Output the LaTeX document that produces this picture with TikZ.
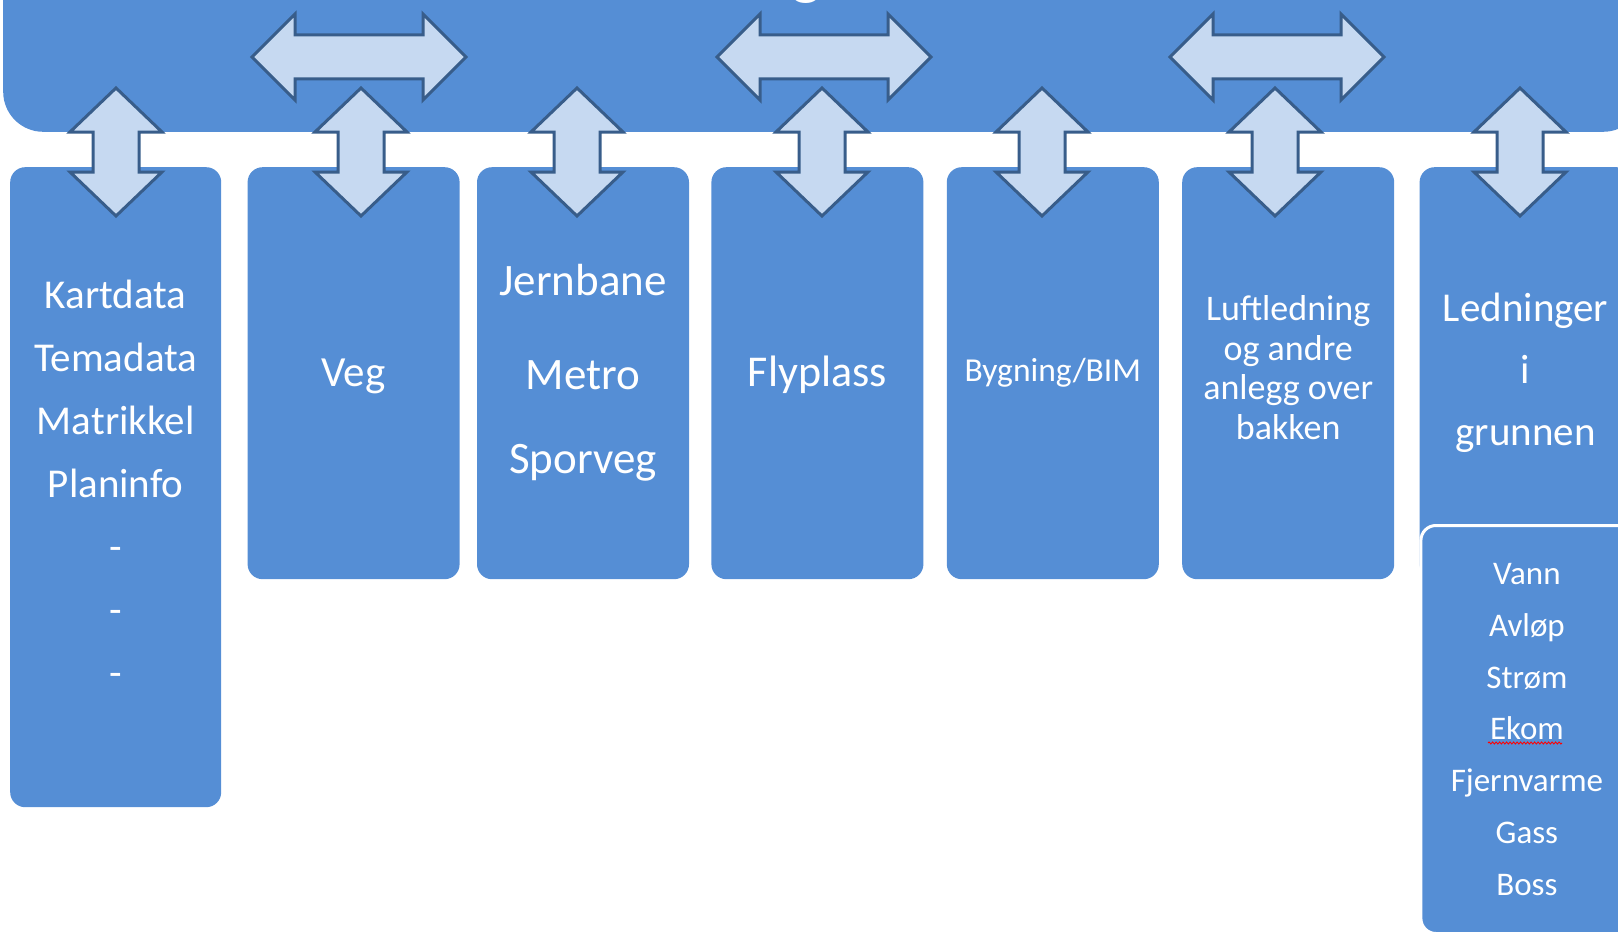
\documentclass[tikz,border=0pt]{standalone}
\usepackage{fontspec}
\setmainfont{Carlito}
\usetikzlibrary{positioning,decorations.pathmorphing}
\definecolor{boxblue}{HTML}{558ED5}
\definecolor{arrowfill}{HTML}{C6D9F1}
\definecolor{arrowline}{HTML}{385D8A}
\tikzset{
  box/.style={fill=boxblue, rounded corners=15pt, minimum width=212pt, minimum height=412pt,
    inner sep=0pt, text=white, align=center, font=\fontsize{43}{52}\selectfont},
  vdouble/.pic={\draw[fill=arrowfill, draw=arrowline, line width=3pt]
    (0,-64) -- (46,-20) -- (23,-20) -- (23,20) -- (46,20) -- (0,64) -- (-46,20) -- (-23,20) -- (-23,-20) -- (-46,-20) -- cycle;},
  hdouble/.pic={\draw[fill=arrowfill, draw=arrowline, line width=3pt]
    (-107,0) -- (-64,-43) -- (-64,-22) -- (64,-22) -- (64,-43) -- (107,0) -- (64,43) -- (64,22) -- (-64,22) -- (-64,43) -- cycle;}
}
\begin{document}
\begin{tikzpicture}[x=1pt, y=-1pt]
\useasboundingbox (0,0) rectangle (1618,934);
\clip (0,0) rectangle (1618,934);
% banner
\node[box, rounded corners=40pt, minimum width=1640pt, minimum height=240pt, anchor=south west] (T) at (3,132) {};
\node[text=white, font=\fontsize{64}{64}\selectfont, anchor=base] (G) at (807,-7) {g};
% columns
\node[box, minimum width=211pt, minimum height=640pt, anchor=north west, font=\fontsize{41}{63}\selectfont] (K) at (10,167)
  {Kartdata\\Temadata\\Matrikkel\\Planinfo\\-\\-\\-\rule[-8pt]{0pt}{8pt}};
\node[box, text depth=0pt, below right=0pt and 26pt of K.north east] (V) {Veg};
\node[box, right=17pt of V, font=\fontsize{45}{84}\selectfont] (J) {Jernbane\\[10pt]Metro\\Sporveg};
\node[box, right=22pt of J, text depth=4pt, font=\fontsize{44}{52}\selectfont] (F) {Flyplass};
\node[box, right=23pt of F, font=\fontsize{33.5}{40}\selectfont] (B) {Bygning/BIM};
\node[box, right=23pt of B, font=\fontsize{36}{39.5}\selectfont] (L) {Luftledning\\og andre\\anlegg over\\bakken\strut};
\node[box, right=25pt of L, font=\fontsize{41}{62}\selectfont] (G1) {Ledninger\\i\\grunnen};
\node[box, draw=white, line width=3pt, minimum height=408pt, anchor=north west, font=\fontsize{33}{51.8}\selectfont] (G2) at (G1.north west |- 0,524)
  {Vann\\Avløp\\Strøm\\Ekom\\Fjernvarme\\Gass\\Boss};
\draw[red, line width=0.9pt, decorate, decoration={snake, amplitude=1pt, segment length=3.5pt}] (1488,743) -- (1562,743);
% arrows
\pic at (359,57) {hdouble};
\pic at (824,57) {hdouble};
\pic at (1277,57) {hdouble};
\pic at (116,152) {vdouble};
\pic at (361,152) {vdouble};
\pic at (577,152) {vdouble};
\pic at (822,152) {vdouble};
\pic at (1042,152) {vdouble};
\pic at (1275,152) {vdouble};
\pic at (1520,152) {vdouble};
\end{tikzpicture}
\end{document}
